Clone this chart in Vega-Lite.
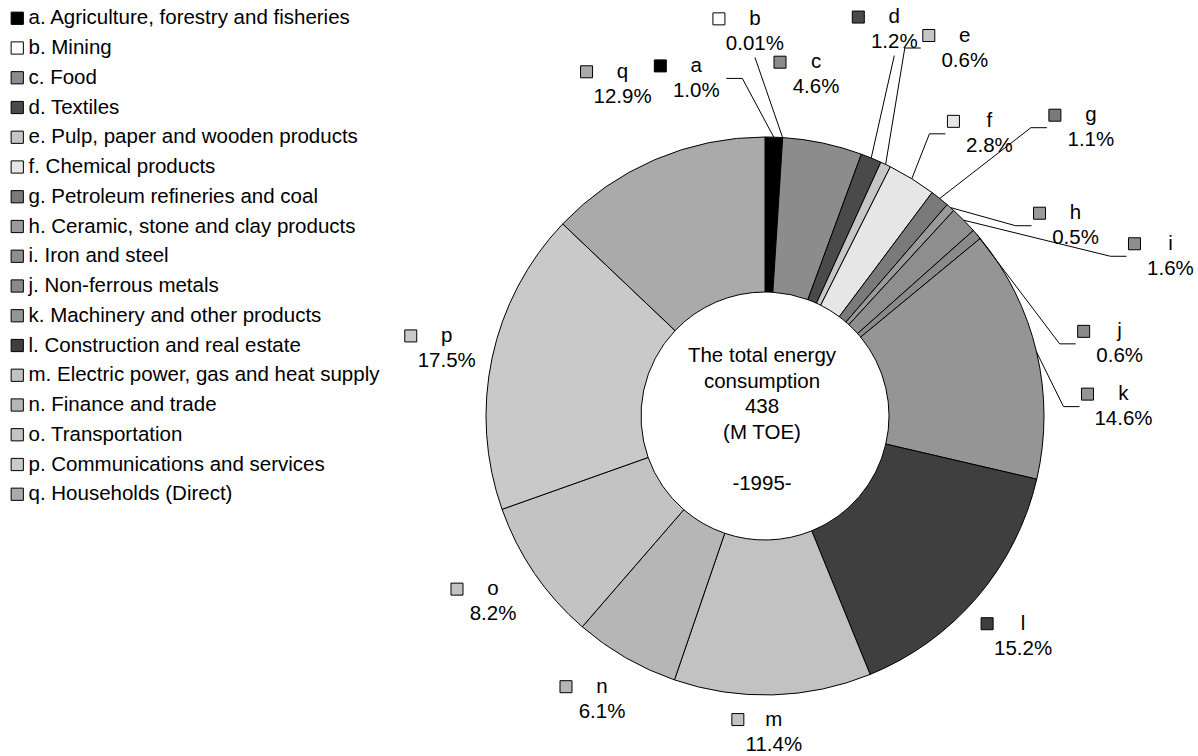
{
  "$schema": "https://vega.github.io/schema/vega-lite/v6.json",
  "width": 866,
  "height": 680,
  "autosize": {"type": "none"},
  "padding": {"left": 332, "top": 76, "right": 0, "bottom": 0},
  "config": {
    "font": "Liberation Sans",
    "view": {"stroke": null},
    "text": {"fontSize": 20.5, "color": "black"}
  },
  "data": {
    "values": [
      {"code": "a", "sector": "a. Agriculture, forestry and fisheries", "share": 1.0},
      {"code": "b", "sector": "b. Mining", "share": 0.01},
      {"code": "c", "sector": "c. Food", "share": 4.6},
      {"code": "d", "sector": "d. Textiles", "share": 1.2},
      {"code": "e", "sector": "e. Pulp, paper and wooden products", "share": 0.6},
      {"code": "f", "sector": "f. Chemical products", "share": 2.8},
      {"code": "g", "sector": "g. Petroleum refineries and coal", "share": 1.1},
      {"code": "h", "sector": "h. Ceramic, stone and clay products", "share": 0.5},
      {"code": "i", "sector": "i. Iron and steel", "share": 1.6},
      {"code": "j", "sector": "j. Non-ferrous metals", "share": 0.6},
      {"code": "k", "sector": "k. Machinery and other products", "share": 14.6},
      {"code": "l", "sector": "l. Construction and real estate", "share": 15.2},
      {"code": "m", "sector": "m. Electric power, gas and heat supply", "share": 11.4},
      {"code": "n", "sector": "n. Finance and trade", "share": 6.1},
      {"code": "o", "sector": "o. Transportation", "share": 8.2},
      {"code": "p", "sector": "p. Communications and services", "share": 17.5},
      {"code": "q", "sector": "q. Households (Direct)", "share": 12.9}
    ]
  },
  "transform": [
    {"joinaggregate": [{"op": "sum", "field": "share", "as": "total"}]},
    {
      "window": [
        {"op": "sum", "field": "share", "as": "cum"},
        {"op": "row_number", "as": "rowno"}
      ],
      "sort": [{"field": "code", "order": "ascending"}],
      "frame": [null, 0]
    },
    {"calculate": "datum.rowno - 1", "as": "rank"},
    {"calculate": "(datum.share < 0.1 ? format(datum.share, '.2f') : format(datum.share, '.1f')) + '%'", "as": "pct"},
    {"calculate": "(datum.cum - datum.share / 2) / datum.total * 360", "as": "mid"},
    {"calculate": "datum.rank <= 10", "as": "fan"},
    {"calculate": "datum.fan ? datum.rank * 10 - 11.5 : datum.mid", "as": "ang"},
    {"calculate": "datum.ang * PI / 180", "as": "rad"},
    {"calculate": "(sin(datum.rad) > 0 ? 43 : 30) * abs(sin(datum.rad)) + 24 * abs(cos(datum.rad))", "as": "ext"},
    {"calculate": "datum.share < 5 && (datum.rank < 4 ? datum.rank % 2 == 1 : datum.rank % 2 == 0)", "as": "far"},
    {"calculate": "(datum.fan ? (datum.far ? 360 + 0.6 * clamp(datum.ang, 0, 45) : 315) : 291 + 60 * pow(max(0, cos(datum.rad)), 6)) + datum.ext", "as": "lr"},
    {"calculate": "datum.lr * sin(datum.rad)", "as": "lx"},
    {"calculate": "datum.lr * cos(datum.rad)", "as": "ly"},
    {"calculate": "279 * sin(datum.mid * PI / 180)", "as": "px"},
    {"calculate": "279 * cos(datum.mid * PI / 180)", "as": "py"},
    {"calculate": "datum.lx - datum.px > 30 ? 'R' : (datum.lx - datum.px < -30 ? 'L' : 'V')", "as": "side"},
    {"calculate": "datum.side == 'R' ? datum.lx - 44 : (datum.side == 'L' ? datum.lx + 30 : datum.lx)", "as": "qx"},
    {"calculate": "datum.side == 'V' ? datum.ly - 26 : datum.ly", "as": "qy"},
    {"calculate": "datum.side == 'R' ? datum.qx - 16 : (datum.side == 'L' ? datum.qx + 16 : datum.qx)", "as": "ex"},
    {"calculate": "abs(datum.ang - datum.mid) > 3.5 || datum.far", "as": "leader"}
  ],
  "layer": [
    {
      "mark": {"type": "arc", "outerRadius": 279, "innerRadius": 124, "stroke": "black", "strokeWidth": 1},
      "encoding": {
        "theta": {"field": "share", "type": "quantitative", "stack": true},
        "order": {"field": "rank", "type": "quantitative"},
        "color": {
          "field": "sector",
          "type": "nominal",
          "scale": {
            "range": ["#000000", "#ffffff", "#8c8c8c", "#4a4a4a", "#c6c6c6", "#e6e6e6", "#7a7a7a", "#9a9a9a", "#8e8e8e", "#8a8a8a", "#959595", "#3f3f3f", "#c2c2c2", "#b6b6b6", "#c3c3c3", "#c9c9c9", "#aaaaaa"]
          },
          "legend": {
            "title": null,
            "orient": "none",
            "legendX": -325,
            "legendY": -68,
            "symbolType": "square",
            "symbolSize": 150,
            "symbolStrokeColor": "black",
            "symbolStrokeWidth": 1,
            "labelFontSize": 20.5,
            "labelColor": "black",
            "labelOffset": 1,
            "labelLimit": 420,
            "rowPadding": 8.75,
            "padding": 0,
            "encode": {
              "symbols": {"update": {"stroke": {"value": "black"}, "strokeWidth": {"value": 1}}}
            }
          }
        }
      }
    },
    {
      "transform": [{"filter": "datum.leader"}],
      "mark": {"type": "rule", "color": "black", "strokeWidth": 1},
      "encoding": {
        "x": {"field": "px", "type": "quantitative", "scale": {"domain": [-433, 433], "nice": false, "zero": false}, "axis": null},
        "y": {"field": "py", "type": "quantitative", "scale": {"domain": [-340, 340], "nice": false, "zero": false}, "axis": null},
        "x2": {"field": "ex"},
        "y2": {"field": "qy"}
      }
    },
    {
      "transform": [{"filter": "datum.leader && datum.side != 'V'"}],
      "mark": {"type": "rule", "color": "black", "strokeWidth": 1},
      "encoding": {
        "x": {"field": "ex", "type": "quantitative", "scale": {"domain": [-433, 433], "nice": false, "zero": false}, "axis": null},
        "y": {"field": "qy", "type": "quantitative", "scale": {"domain": [-340, 340], "nice": false, "zero": false}, "axis": null},
        "x2": {"field": "qx"},
        "y2": {"field": "qy"}
      }
    },
    {
      "mark": {"type": "point", "shape": "square", "filled": true, "size": 144, "stroke": "black", "strokeWidth": 1, "opacity": 1, "xOffset": -36, "yOffset": -12.5},
      "encoding": {
        "x": {"field": "lx", "type": "quantitative", "scale": {"domain": [-433, 433], "nice": false, "zero": false}, "axis": null},
        "y": {"field": "ly", "type": "quantitative", "scale": {"domain": [-340, 340], "nice": false, "zero": false}, "axis": null},
        "color": {"field": "sector", "type": "nominal"}
      }
    },
    {
      "mark": {"type": "text", "dy": -12.5, "baseline": "middle", "align": "center"},
      "encoding": {
        "x": {"field": "lx", "type": "quantitative", "scale": {"domain": [-433, 433], "nice": false, "zero": false}, "axis": null},
        "y": {"field": "ly", "type": "quantitative", "scale": {"domain": [-340, 340], "nice": false, "zero": false}, "axis": null},
        "text": {"field": "code", "type": "nominal"}
      }
    },
    {
      "mark": {"type": "text", "dy": 12.5, "baseline": "middle", "align": "center"},
      "encoding": {
        "x": {"field": "lx", "type": "quantitative", "scale": {"domain": [-433, 433], "nice": false, "zero": false}, "axis": null},
        "y": {"field": "ly", "type": "quantitative", "scale": {"domain": [-340, 340], "nice": false, "zero": false}, "axis": null},
        "text": {"field": "pct", "type": "nominal"}
      }
    },
    {
      "data": {"values": [{"total_mtoe": 438, "year": 1995}]},
      "layer": [
        {
          "transform": [
            {"calculate": "'The total energy\\nconsumption\\n' + datum.total_mtoe + '\\n(M TOE)'", "as": "caption"}
          ],
          "mark": {"type": "text", "lineBreak": "\n", "lineHeight": 25.5, "baseline": "middle", "align": "center", "dy": -60, "dx": -3},
          "encoding": {
            "x": {"datum": 0, "type": "quantitative", "scale": {"domain": [-433, 433], "nice": false, "zero": false}, "axis": null},
            "y": {"datum": 0, "type": "quantitative", "scale": {"domain": [-340, 340], "nice": false, "zero": false}, "axis": null},
            "text": {"field": "caption", "type": "nominal"}
          }
        },
        {
          "transform": [
            {"calculate": "'-' + datum.year + '-'", "as": "yearText"}
          ],
          "mark": {"type": "text", "baseline": "middle", "align": "center", "dy": 68, "dx": -3},
          "encoding": {
            "x": {"datum": 0, "type": "quantitative", "scale": {"domain": [-433, 433], "nice": false, "zero": false}, "axis": null},
            "y": {"datum": 0, "type": "quantitative", "scale": {"domain": [-340, 340], "nice": false, "zero": false}, "axis": null},
            "text": {"field": "yearText", "type": "nominal"}
          }
        }
      ]
    }
  ]
}
